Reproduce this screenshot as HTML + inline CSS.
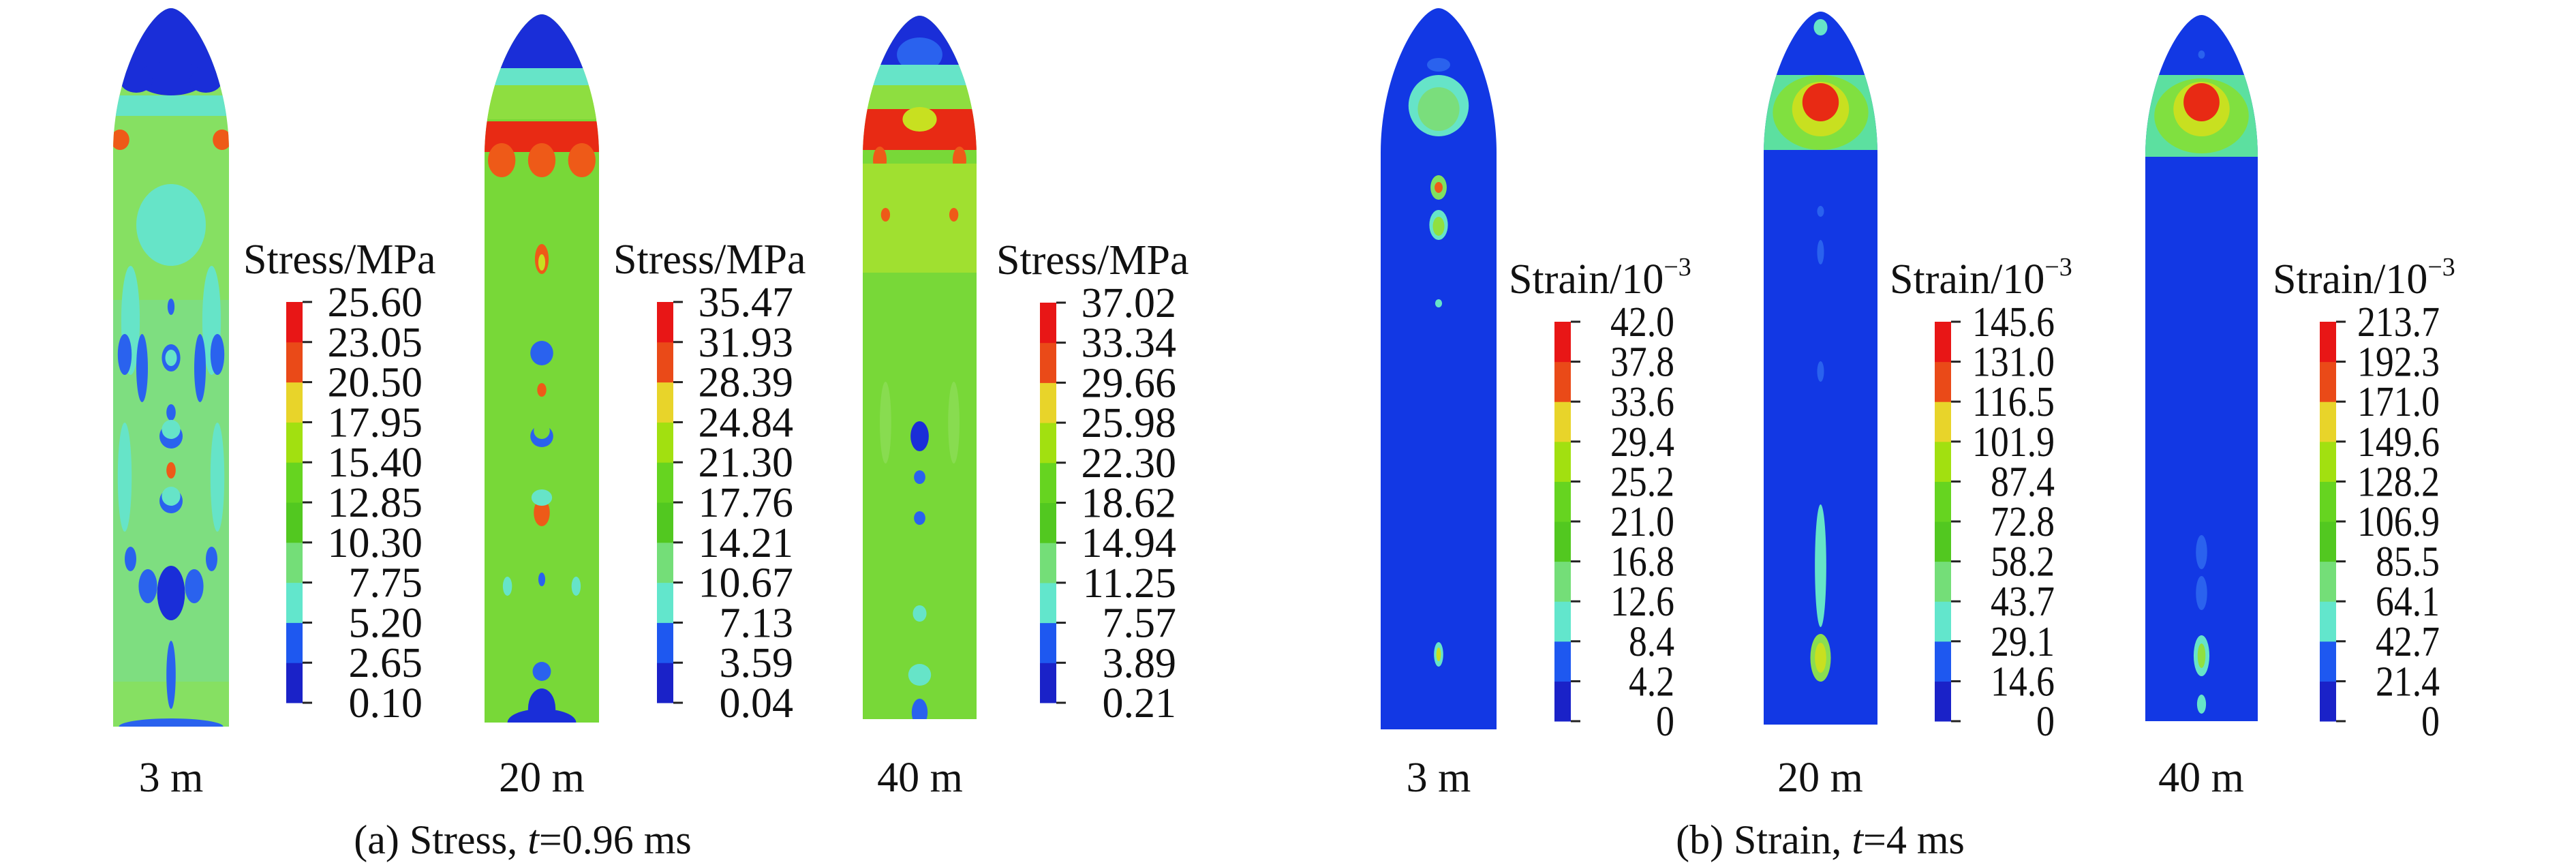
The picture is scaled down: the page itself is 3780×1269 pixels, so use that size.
<!DOCTYPE html>
<html><head><meta charset="utf-8"><style>
html,body{margin:0;padding:0;background:#fff;}
svg{display:block;}
text{font-family:"Liberation Serif",serif;fill:#111;}
</style></head><body>
<svg id="fig" width="3780" height="1269" viewBox="0 0 3780 1269" xmlns="http://www.w3.org/2000/svg">
<rect width="3780" height="1269" fill="#fff"/>
<g id="root"></g>
<text x="767" y="1252" font-size="60" text-anchor="middle">(a) Stress, <tspan font-style="italic">t</tspan>=0.96 ms</text>
<text x="2671" y="1252" font-size="60" text-anchor="middle">(b) Strain, <tspan font-style="italic">t</tspan>=4 ms</text>
</svg>
<script>
const bandColors = ["#1a22c8","#1e58f0","#62e6cc","#74de78","#52c820","#66d420","#a2e010","#e8d42a","#ea4a18","#e81616"];
const stressTicks3 = ["0.10","2.65","5.20","7.75","10.30","12.85","15.40","17.95","20.50","23.05","25.60"];
const stressTicks20 = ["0.04","3.59","7.13","10.67","14.21","17.76","21.30","24.84","28.39","31.93","35.47"];
const stressTicks40 = ["0.21","3.89","7.57","11.25","14.94","18.62","22.30","25.98","29.66","33.34","37.02"];
const strainTicks3 = ["0","4.2","8.4","12.6","16.8","21.0","25.2","29.4","33.6","37.8","42.0"];
const strainTicks20 = ["0","14.6","29.1","43.7","58.2","72.8","87.4","101.9","116.5","131.0","145.6"];
const strainTicks40 = ["0","21.4","42.7","64.1","85.5","106.9","128.2","149.6","171.0","192.3","213.7"];
const distances = ["3 m","20 m","40 m"];

const NS="http://www.w3.org/2000/svg";
const root=document.getElementById('root');
function mk(tag,attrs,parent){const e=document.createElementNS(NS,tag);for(const k in attrs)e.setAttribute(k,attrs[k]);(parent||root).appendChild(e);return e;}

function colorbar(x,yTop,yBot,ticks,title,titleX,name,sup){
  const g=mk('g',{});
  
  
  const n=bandColors.length, h=(yBot-yTop)/n;
  for(let i=0;i<n;i++){
    const r=mk('rect',{x:x,y:yBot-(i+1)*h,width:24,height:h+0.5,fill:bandColors[i]},g);
    
    
  }
  const step=(yBot-yTop)/(ticks.length-1);
  ticks.forEach((t,i)=>{
    const y=yBot-i*step;
    mk('line',{x1:x+24,x2:x+38,y1:y,y2:y,stroke:'#222','stroke-width':3},g);
    const tx=mk('text',{x:x+ (sup?176:200),y:y+21,'font-size':62,'text-anchor':'end'},g);
    if(sup){
      const nd=t.replace('.','').length, nDot=t.length-nd;
      tx.setAttribute('textLength',String(nd*27+nDot*13));
      tx.setAttribute('lengthAdjust','spacingAndGlyphs');
    }
    tx.textContent=t;
    
    
  });
  const tt=mk('text',{x:titleX,y:yTop-42,'font-size':62},g);
  
  
  if(sup){tt.textContent='Strain/10';const s=mk('tspan',{'font-size':38,dy:-26},tt);s.textContent='−3';}
  else tt.textContent=title;
}

let clipId=0;
function projectile(x0,x1,yT,yB,base,name,shapes){
  const w=x1-x0,cx=(x0+x1)/2,yS=yT+0.2*(yB-yT),h=yS-yT;
  const d=`M${x0},${yB} L${x0},${yS} C${x0},${yS-0.55*h} ${cx-0.17*w},${yT} ${cx},${yT} C${cx+0.17*w},${yT} ${x1},${yS-0.55*h} ${x1},${yS} L${x1},${yB} Z`;
  const id='c'+(clipId++);
  const cp=mk('clipPath',{id:id});mk('path',{d:d},cp);
  const g=mk('g',{'clip-path':`url(#${id})`});
  
  
  mk('rect',{x:x0,y:yT,width:w,height:yB-yT,fill:base},g);
  shapes.forEach(s=>{
    if(s[0]==='r')mk('rect',{x:x0+s[1]*w,y:s[2],width:s[3]*w,height:s[4],fill:s[5]},g);
    else mk('ellipse',{cx:x0+s[1]*w,cy:s[2],rx:s[3]*w,ry:s[4],fill:s[5]},g);
  });
}
const B="#1a2ed8",B2="#2a62ee",C="#66e4c8",G="#78d838",LG="#86e062",Y="#c8e020",O="#ee5a18",R="#e82a14",SB="#1238e4";

projectile(166,336,12,1066,LG,'stress-projectile-3m',[
 ['r',0,0,1,110,B],['e',0.5,115,0.3,25,B],['e',0.2,118,0.14,18,B],['e',0.8,118,0.14,18,B],['r',0,140,1,30,C],
 ['e',0.06,205,0.08,15,O],['e',0.94,205,0.08,15,O],['e',0.5,330,0.3,60,C],['r',0,440,1,560,"#7ede80"],
 ['e',0.15,470,0.08,80,C],['e',0.85,470,0.08,80,C],
 ['e',0.25,540,0.05,50,B2],['e',0.75,540,0.05,50,B2],['e',0.5,450,0.03,12,B2],['e',0.5,525,0.08,20,B2],['e',0.5,525,0.05,12,C],
 ['e',0.1,520,0.06,30,B2],['e',0.9,520,0.06,30,B2],['e',0.5,605,0.04,12,B2],['e',0.5,640,0.1,18,B2],['e',0.5,630,0.08,14,C],
 ['e',0.5,690,0.04,12,O],['e',0.5,735,0.1,18,B2],['e',0.5,728,0.08,14,C],['e',0.5,870,0.12,40,B],['e',0.3,860,0.08,25,B2],['e',0.7,860,0.08,25,B2],
 ['e',0.15,820,0.05,18,B2],['e',0.85,820,0.05,18,B2],['e',0.5,990,0.04,50,B2],['e',0.5,1066,0.45,12,B2],['e',0.1,700,0.06,80,C],['e',0.9,700,0.06,80,C]]);
projectile(711,879,21,1060,G,'stress-projectile-20m',[
 ['r',0,0,1,100,B],['r',0,100,1,25,C],['r',0,125,1,50,"#8ede40"],['r',0,178,1,45,R],
 ['e',0.15,235,0.12,25,O],['e',0.5,235,0.12,25,O],['e',0.85,235,0.12,25,O],
 ['e',0.5,380,0.06,22,O],['e',0.5,385,0.03,12,Y],['e',0.5,518,0.1,18,B2],['e',0.5,572,0.04,10,O],['e',0.5,640,0.1,16,B2],['e',0.5,632,0.07,12,G],
 ['e',0.5,752,0.07,20,O],['e',0.5,730,0.09,12,C],['e',0.5,850,0.03,10,B2],['e',0.5,985,0.08,14,B2],['e',0.5,1040,0.12,30,B],['e',0.5,1060,0.3,20,B],
 ['e',0.2,860,0.04,14,C],['e',0.8,860,0.04,14,C]]);
projectile(1266,1433,23,1055,G,'stress-projectile-40m',[
 ['r',0,0,1,95,B],['e',0.5,80,0.2,25,B2],['r',0,95,1,30,C],['r',0,125,1,35,"#8ede40"],['r',0,160,1,60,R],['e',0.5,175,0.15,18,Y],
 ['e',0.15,235,0.06,20,O],['e',0.85,235,0.06,20,O],['r',0,240,1,160,"#a0e030"],['e',0.2,315,0.04,10,O],['e',0.8,315,0.04,10,O],
 ['e',0.5,640,0.08,22,B],['e',0.5,700,0.05,10,B2],['e',0.5,760,0.05,10,B2],['e',0.5,900,0.06,12,C],['e',0.5,990,0.1,16,C],['e',0.5,1045,0.07,20,B2],
 ['e',0.2,620,0.05,60,"#88dc50"],['e',0.8,620,0.05,60,"#88dc50"]]);

projectile(2026,2196,12,1070,SB,'strain-projectile-3m',[
 ['e',0.5,95,0.1,10,B2],['e',0.5,155,0.26,45,C],['e',0.5,160,0.18,32,"#7ade7c"],
 ['e',0.5,275,0.07,18,"#80e060"],['e',0.5,275,0.035,8,O],['e',0.5,330,0.08,22,C],['e',0.5,332,0.05,14,"#90e040"],
 ['e',0.5,445,0.03,6,C],['e',0.5,960,0.04,18,C],['e',0.5,960,0.02,10,Y]]);
projectile(2588,2755,17,1063,SB,'strain-projectile-20m',[
 ['e',0.5,40,0.06,12,C],['r',0,110,1,110,"#5ce0a0"],['e',0.5,165,0.42,55,"#80e040"],['e',0.5,160,0.25,40,Y],['e',0.5,150,0.16,28,R],
 ['e',0.5,310,0.03,8,B2],['e',0.5,370,0.03,18,B2],['e',0.5,545,0.03,15,B2],
 ['e',0.5,830,0.05,90,C],['e',0.5,965,0.09,35,"#8ade50"],['e',0.5,965,0.05,22,Y]]);
projectile(3148,3313,22,1058,SB,'strain-projectile-40m',[
 ['e',0.5,80,0.03,6,B2],['r',0,110,1,120,"#5ce0a0"],['e',0.5,170,0.42,55,"#80e040"],['e',0.5,160,0.25,40,Y],['e',0.5,150,0.16,28,R],
 ['e',0.5,810,0.05,25,B2],['e',0.5,870,0.05,25,B2],['e',0.5,962,0.07,30,C],['e',0.5,962,0.035,18,"#90e040"],['e',0.5,1033,0.04,14,C]]);

colorbar(420,443,1031,stressTicks3,'Stress/MPa',357,'stress-colorbar-3m',false);
colorbar(964,443,1031,stressTicks20,'Stress/MPa',900,'stress-colorbar-20m',false);
colorbar(1526,444,1031,stressTicks40,'Stress/MPa',1462,'stress-colorbar-40m',false);
colorbar(2281,472,1058,strainTicks3,'',2214,'strain-colorbar-3m',true);
colorbar(2839,472,1058,strainTicks20,'',2773,'strain-colorbar-20m',true);
colorbar(3404,472,1058,strainTicks40,'',3335,'strain-colorbar-40m',true);

const labelX=[251,795,1350,2111,2671,3230];
labelX.forEach((x,i)=>{
  const t=mk('text',{x:x,y:1161,'font-size':62,'text-anchor':'middle'});
  t.textContent=distances[i%3];
  
  
});
</script>
</body></html>
